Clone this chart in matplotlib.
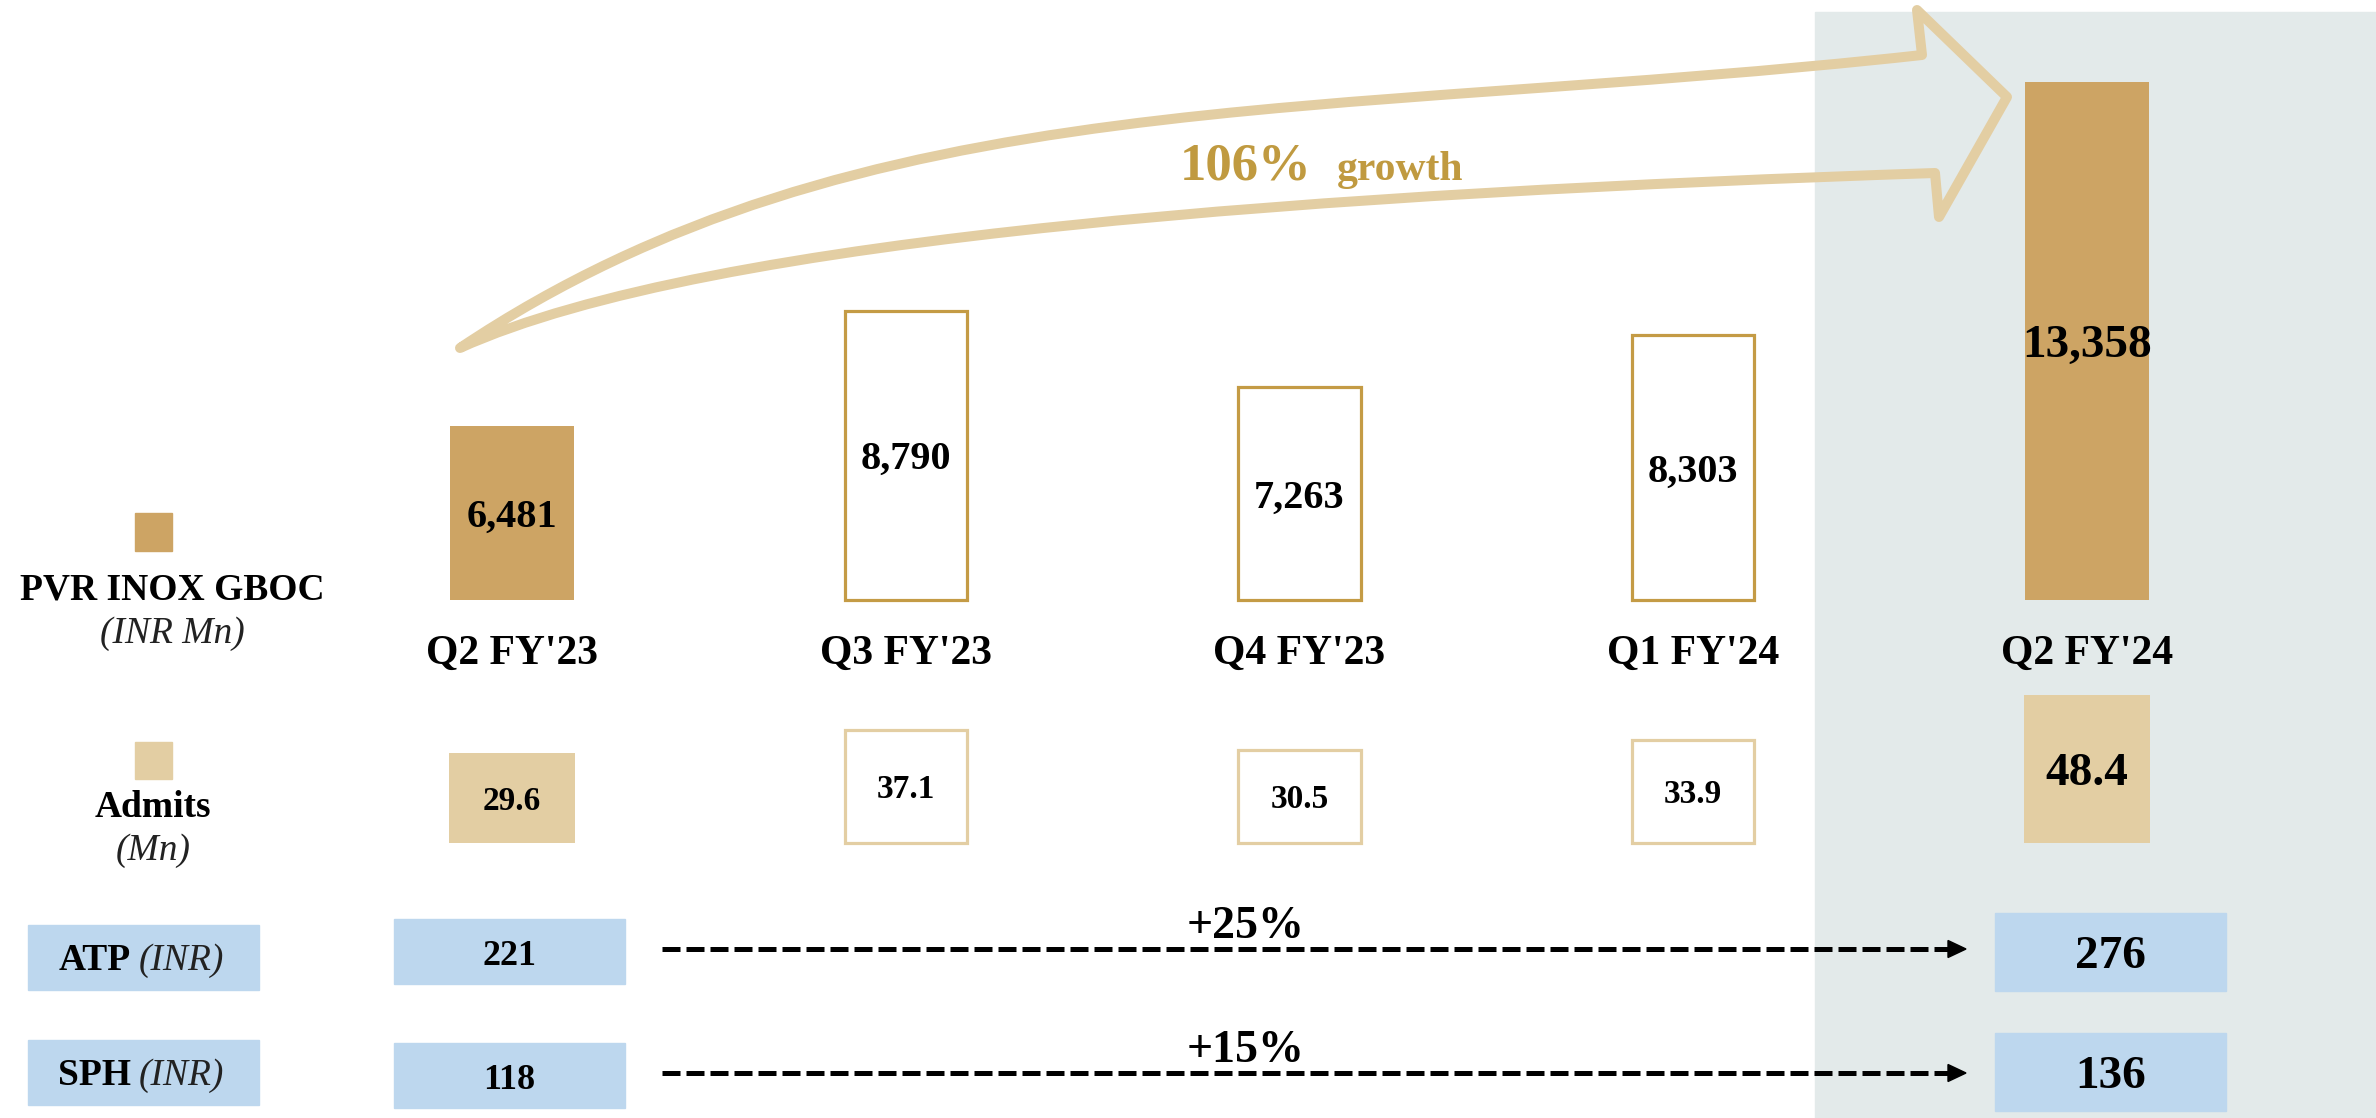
import matplotlib
matplotlib.use("Agg")
import matplotlib.pyplot as plt
from matplotlib.patches import Rectangle, Polygon, PathPatch
from matplotlib.path import Path
from matplotlib.transforms import blended_transform_factory
import numpy as np

plt.rcParams['font.family'] = ['Liberation Serif', 'DejaVu Serif']

# data
quarters = ["Q2 FY'23", "Q3 FY'23", "Q4 FY'23", "Q1 FY'24", "Q2 FY'24"]
gboc = [6481, 8790, 7263, 8303, 13358]
admits = [29.6, 37.1, 30.5, 33.9, 48.4]
filled = [True, False, False, False, True]
atp = [221, 276]
sph = [118, 136]
atp_growth = "+25%"
sph_growth = "+15%"
gboc_growth = "106%"

# colours
GOLD = '#CDA464'
GOLD_EDGE = '#C49B45'
TAN = '#E3CEA3'
BLUE = '#BDD7EE'
PANEL = '#E3EAEA'
TXT_GOLD = '#C09A40'

W, H = 2376, 1118
fig = plt.figure(figsize=(W / 100, H / 100), dpi=100)

# background layer in pixel units (y down)
cv = fig.add_axes([0, 0, 1, 1])
cv.set_xlim(0, W)
cv.set_ylim(H, 0)
cv.axis('off')

x = np.arange(len(quarters))
x0, step = 512, 393.75
xlim = (-x0 / step, (W - x0) / step)

# highlighted last quarter
cv.add_patch(Rectangle((1815, 12), W - 1815, H - 12, color=PANEL, zorder=0))

# gboc bars
base = 3000
ax1 = fig.add_axes([0, (H - 600) / H, 1, 600 / H])
ax1.set_xlim(*xlim)
ax1.set_ylim(base, 15000)
ax1.axis('off')
ax1.patch.set_alpha(0)
for i, v in enumerate(gboc):
    if filled[i]:
        ax1.bar(i, v - base, bottom=base, width=0.315, color=GOLD, clip_on=False)
    else:
        ax1.bar(i, v - base, bottom=base, width=0.31, color='white',
                edgecolor=GOLD_EDGE, linewidth=2.3, clip_on=False)
    fs = 34 if i == len(gboc) - 1 else 29
    ax1.text(i, (base + v) / 2, f"{v:,}", ha='center', va='center_baseline',
             fontsize=fs, fontweight='bold')

tr = blended_transform_factory(ax1.transData, cv.transData)
for i, q in enumerate(quarters):
    ax1.text(i, 664, q, transform=tr, ha='center', va='baseline',
             fontsize=30, fontweight='bold')

# admits boxes
ax2 = fig.add_axes([0, (H - 843) / H, 1, 183 / H])
ax2.set_xlim(*xlim)
ax2.set_ylim(0, 183 / 3.05)
ax2.axis('off')
ax2.patch.set_alpha(0)
for i, v in enumerate(admits):
    if filled[i]:
        ax2.bar(i, v, width=0.318, color=TAN, clip_on=False)
    else:
        ax2.bar(i, v, width=0.31, color='white', edgecolor=TAN,
                linewidth=2.3, clip_on=False)
    fs = 34 if i == len(admits) - 1 else 24
    ax2.text(i, v / 2, f"{v:.1f}", ha='center', va='center_baseline',
             fontsize=fs, fontweight='bold')

# legend
cv.add_patch(Rectangle((135, 513), 37, 38, color=GOLD))
cv.text(172, 600, 'PVR INOX GBOC', ha='center', va='baseline', fontsize=27, fontweight='bold')
cv.text(172, 643, '(INR Mn)', ha='center', va='baseline', fontsize=27, style='italic', color='#222222')
cv.add_patch(Rectangle((135, 742), 37, 37, color=TAN))
cv.text(153, 817, 'Admits', ha='center', va='baseline', fontsize=27, fontweight='bold')
cv.text(153, 860, '(Mn)', ha='center', va='baseline', fontsize=27, style='italic', color='#222222')

# ATP / SPH rows
rows = [('ATP', atp, atp_growth, 925, 919, 913, 949),
        ('SPH', sph, sph_growth, 1040, 1043, 1033, 1073)]
for name, vals, growth, ylab, yfirst, ylast, yarr in rows:
    cv.add_patch(Rectangle((28, ylab), 231, 65, color=BLUE))
    cv.text(131, ylab + 45, name, ha='right', va='baseline', fontsize=27, fontweight='bold')
    cv.text(139, ylab + 45, '(INR)', ha='left', va='baseline', fontsize=27,
            style='italic', color='#222222')
    cv.add_patch(Rectangle((394, yfirst), 231, 65, color=BLUE))
    cv.text(509.5, yfirst + 46, f"{vals[0]}", ha='center', va='baseline',
            fontsize=26, fontweight='bold')
    cv.add_patch(Rectangle((1995, ylast), 231, 78, color=BLUE))
    cv.text(2110.5, ylast + 55, f"{vals[1]}", ha='center', va='baseline',
            fontsize=34, fontweight='bold')
    ln, = cv.plot([662, 1950], [yarr, yarr], color='black', lw=3.6,
                  solid_capstyle='butt', dash_capstyle='butt')
    ln.set_dashes((3.6, 1.2))
    cv.add_patch(Polygon([(1948, yarr - 8.5), (1966, yarr), (1948, yarr + 8.5)],
                         closed=True, color='black'))
    cv.text(1246, yarr - 11, growth, ha='center', va='baseline', fontsize=33, fontweight='bold')

# curved growth arrow
verts = [(460, 348), (860, 80), (1322, 121), (1922, 55),
         (1917, 10), (2007, 97), (1939, 217), (1935, 173),
         (1335, 193), (710, 235), (460, 348), (460, 348)]
codes = [Path.MOVETO, Path.CURVE4, Path.CURVE4, Path.CURVE4,
         Path.LINETO, Path.LINETO, Path.LINETO, Path.LINETO,
         Path.CURVE4, Path.CURVE4, Path.CURVE4, Path.CLOSEPOLY]
cv.add_patch(PathPatch(Path(verts, codes), facecolor='none', edgecolor=TAN,
                       lw=7.2, joinstyle='round', capstyle='round', zorder=3))
cv.text(1180, 180, gboc_growth, ha='left', va='baseline', fontsize=38,
        fontweight='bold', color=TXT_GOLD)
cv.text(1337, 180, 'growth', ha='left', va='baseline', fontsize=30,
        fontweight='bold', color=TXT_GOLD)

fig.savefig('out.png', dpi=100)
